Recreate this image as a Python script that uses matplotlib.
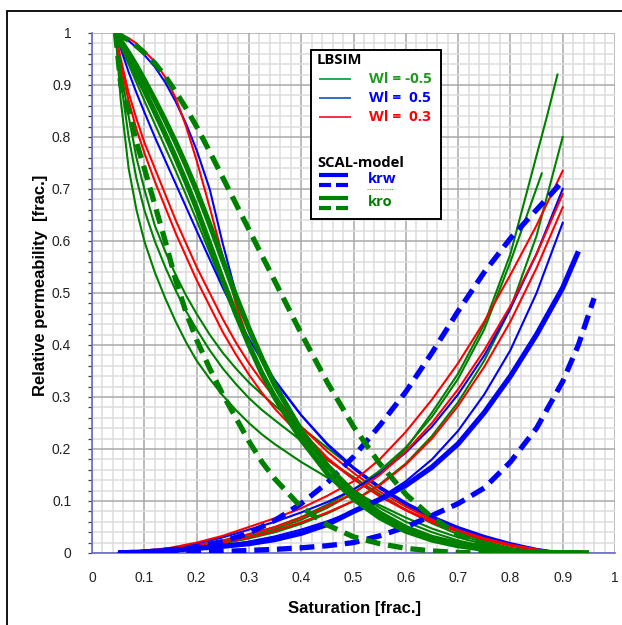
import matplotlib
matplotlib.use("Agg")
import matplotlib.pyplot as plt
from matplotlib.patches import Rectangle
from matplotlib.ticker import MultipleLocator

# ---------------- data ----------------
# oil relative permeability (kro) curves, sampled on a common saturation grid
sw_kro = [0.045, 0.055, 0.07, 0.085, 0.10, 0.12, 0.14, 0.16, 0.18, 0.20, 0.225,
          0.25, 0.275, 0.30, 0.325, 0.35, 0.40, 0.45, 0.50, 0.55, 0.60, 0.65,
          0.70, 0.75, 0.80, 0.85, 0.90]

# LBSIM, Wl = -0.5 (green)
kro_green_1 = [1.0, 0.93, 0.84, 0.76, 0.70, 0.63, 0.58, 0.535, 0.495, 0.46, 0.42,
               0.385, 0.355, 0.328, 0.305, 0.283, 0.242, 0.202, 0.163, 0.127, 0.093, 0.064,
               0.041, 0.023, 0.01, 0.003, 0.0]
kro_green_2 = [1.0, 0.91, 0.80, 0.72, 0.66, 0.60, 0.55, 0.505, 0.465, 0.43, 0.39,
               0.355, 0.325, 0.298, 0.275, 0.255, 0.216, 0.179, 0.146, 0.113, 0.083, 0.057,
               0.036, 0.02, 0.008, 0.002, 0.0]
kro_green_3 = [1.0, 0.87, 0.74, 0.66, 0.60, 0.54, 0.49, 0.445, 0.405, 0.37, 0.335,
               0.303, 0.275, 0.25, 0.228, 0.209, 0.175, 0.145, 0.118, 0.092, 0.068, 0.047,
               0.03, 0.017, 0.007, 0.002, 0.0]
kro_green_4 = [1.0, 0.975, 0.94, 0.905, 0.87, 0.825, 0.78, 0.735, 0.688, 0.64, 0.578,
               0.515, 0.455, 0.40, 0.35, 0.305, 0.228, 0.168, 0.122, 0.087, 0.06, 0.04,
               0.024, 0.013, 0.006, 0.002, 0.0]
# LBSIM, Wl = 0.5 (blue)
kro_blue_1 = [1.0, 0.995, 0.985, 0.972, 0.958, 0.935, 0.905, 0.868, 0.825, 0.775, 0.70,
              0.595, 0.50, 0.43, 0.375, 0.33, 0.265, 0.21, 0.165, 0.128, 0.097, 0.071,
              0.05, 0.033, 0.019, 0.008, 0.0]
kro_blue_2 = [1.0, 0.97, 0.925, 0.885, 0.848, 0.80, 0.755, 0.71, 0.665, 0.62, 0.565,
              0.51, 0.46, 0.412, 0.37, 0.332, 0.265, 0.208, 0.162, 0.124, 0.093, 0.068,
              0.047, 0.03, 0.017, 0.007, 0.0]
# LBSIM, Wl = 0.3 (red)
kro_red_1 = [1.0, 0.997, 0.99, 0.98, 0.965, 0.945, 0.915, 0.875, 0.82, 0.755, 0.665,
             0.57, 0.48, 0.405, 0.345, 0.30, 0.235, 0.183, 0.142, 0.11, 0.083, 0.061,
             0.043, 0.028, 0.016, 0.007, 0.0]
kro_red_2 = [1.0, 0.95, 0.885, 0.835, 0.79, 0.74, 0.69, 0.64, 0.595, 0.55, 0.50,
             0.45, 0.405, 0.365, 0.33, 0.298, 0.243, 0.195, 0.154, 0.118, 0.089, 0.064,
             0.044, 0.028, 0.015, 0.006, 0.0]
kro_red_3 = [1.0, 0.94, 0.87, 0.815, 0.77, 0.715, 0.665, 0.615, 0.57, 0.525, 0.475,
             0.425, 0.382, 0.343, 0.308, 0.277, 0.224, 0.18, 0.142, 0.109, 0.082, 0.059,
             0.041, 0.026, 0.014, 0.005, 0.0]

# SCAL-model kro (thick green)
sw_kro_scal = sw_kro + [0.95]
kro_scal_solid_1 = [1.0, 0.98, 0.95, 0.92, 0.89, 0.848, 0.805, 0.76, 0.713, 0.663, 0.595,
                    0.525, 0.46, 0.40, 0.345, 0.298, 0.218, 0.153, 0.104, 0.068, 0.042, 0.025,
                    0.014, 0.007, 0.003, 0.001, 0.0, 0.0]
kro_scal_solid_2 = [1.0, 0.985, 0.962, 0.937, 0.91, 0.872, 0.832, 0.79, 0.745, 0.697, 0.632,
                    0.563, 0.495, 0.432, 0.374, 0.322, 0.236, 0.168, 0.116, 0.077, 0.049, 0.03,
                    0.018, 0.009, 0.004, 0.0015, 0.0005, 0.0]
kro_scal_dash_1 = [1.0, 0.995, 0.986, 0.975, 0.962, 0.942, 0.917, 0.887, 0.855, 0.82, 0.772,
                   0.722, 0.672, 0.622, 0.572, 0.522, 0.422, 0.328, 0.243, 0.172, 0.113, 0.068,
                   0.036, 0.016, 0.005, 0.0, 0.0, 0.0]
kro_scal_dash_2 = [1.0, 0.90, 0.85, 0.79, 0.74, 0.67, 0.60, 0.525, 0.462, 0.41, 0.355,
                   0.305, 0.26, 0.215, 0.175, 0.142, 0.088, 0.054, 0.031, 0.018, 0.009, 0.004,
                   0.001, 0.0, 0.0, 0.0, 0.0, 0.0]

# water relative permeability (krw) curves
sw_krw = [0.05, 0.10, 0.15, 0.20, 0.25, 0.30, 0.35, 0.40, 0.45, 0.50, 0.55,
          0.60, 0.65, 0.70, 0.75, 0.80, 0.85, 0.90]

krw_red_1 = [0.0, 0.004, 0.01, 0.02, 0.033, 0.05, 0.067, 0.086, 0.11, 0.138, 0.18,
             0.233, 0.295, 0.365, 0.445, 0.535, 0.63, 0.735]
krw_red_2 = [0.0, 0.003, 0.008, 0.015, 0.024, 0.036, 0.05, 0.068, 0.09, 0.115, 0.15,
             0.195, 0.25, 0.315, 0.39, 0.475, 0.575, 0.69]
krw_red_3 = [0.0, 0.002, 0.006, 0.012, 0.02, 0.03, 0.043, 0.059, 0.078, 0.10, 0.13,
             0.17, 0.22, 0.283, 0.358, 0.445, 0.548, 0.665]
krw_blue_1 = [0.0, 0.003, 0.009, 0.018, 0.03, 0.045, 0.06, 0.078, 0.098, 0.122, 0.153,
              0.193, 0.243, 0.305, 0.38, 0.47, 0.575, 0.70]
krw_blue_2 = [0.0, 0.001, 0.004, 0.008, 0.014, 0.022, 0.032, 0.045, 0.061, 0.08, 0.105,
              0.138, 0.18, 0.235, 0.305, 0.39, 0.50, 0.635]
krw_green_3 = [0.0, 0.002, 0.006, 0.011, 0.018, 0.028, 0.04, 0.056, 0.076, 0.10, 0.132,
               0.172, 0.225, 0.29, 0.37, 0.47, 0.61, 0.80]

sw_krw_g1 = sw_krw[:-2] + [0.87, 0.89]
krw_green_1 = [0.0, 0.002, 0.007, 0.013, 0.021, 0.032, 0.046, 0.064, 0.087, 0.115, 0.152,
               0.20, 0.27, 0.345, 0.44, 0.575, 0.84, 0.92]
sw_krw_g2 = sw_krw[:-2] + [0.83, 0.86]
krw_green_2 = [0.0, 0.002, 0.008, 0.015, 0.024, 0.036, 0.05, 0.069, 0.093, 0.122, 0.158,
               0.203, 0.262, 0.335, 0.43, 0.56, 0.645, 0.73]

# SCAL-model krw (thick blue)
krw_scal_dash_1 = [0.0, 0.002, 0.006, 0.012, 0.022, 0.038, 0.063, 0.095, 0.135, 0.185, 0.245,
                   0.31, 0.385, 0.465, 0.54, 0.605, 0.66, 0.715]
sw_krw_solid = sw_krw + [0.93]
krw_scal_solid = [0.0, 0.002, 0.005, 0.009, 0.013, 0.018, 0.026, 0.038, 0.055, 0.08, 0.103,
                  0.13, 0.165, 0.21, 0.27, 0.34, 0.42, 0.51, 0.58]
sw_krw_dash_2 = sw_krw + [0.93, 0.96]
krw_scal_dash_2 = [0.0, 0.0005, 0.001, 0.002, 0.003, 0.005, 0.007, 0.01, 0.014, 0.02, 0.033,
                   0.05, 0.072, 0.095, 0.125, 0.175, 0.24, 0.33, 0.40, 0.49]

# legend entries
lbsim_labels = ["Wl = -0.5", "Wl =  0.5", "Wl =  0.3"]
scal_labels = ["krw", "kro"]

x_ticks = [0, 0.1, 0.2, 0.3, 0.4, 0.5, 0.6, 0.7, 0.8, 0.9, 1]
y_ticks = [0, 0.1, 0.2, 0.3, 0.4, 0.5, 0.6, 0.7, 0.8, 0.9, 1]

# ---------------- styling ----------------
GREEN = "#008000"
BLUE = "#0000FF"
RED = "#FF0000"
THIN = 1.5
THICK = 3.8
DASH = (0, (2.8, 1.5))

fig = plt.figure(figsize=(6.22, 6.25), dpi=100)
fig.patch.set_facecolor("white")
fig.patches.append(Rectangle((7 / 622, -0.01), 1.0, 1 - 11 / 625 + 0.01,
                             transform=fig.transFigure, fill=False,
                             edgecolor="black", linewidth=1.3, zorder=0))

ax = fig.add_axes([92 / 622, 72 / 625, 523 / 622, 520 / 625])
ax.set_xlim(0, 1)
ax.set_ylim(0, 1)

ax.xaxis.set_major_locator(MultipleLocator(0.1))
ax.yaxis.set_major_locator(MultipleLocator(0.1))
ax.xaxis.set_minor_locator(MultipleLocator(0.02))
ax.yaxis.set_minor_locator(MultipleLocator(0.02))
ax.grid(which="minor", color="#dcdcdc", linewidth=1.1, zorder=0)
ax.grid(which="major", color="#a8a8a8", linewidth=1.1, zorder=0)
ax.set_axisbelow(True)

for side in ("top", "right"):
    ax.spines[side].set_visible(False)
for side in ("left", "bottom"):
    ax.spines[side].set_color("#6a6ac8")
    ax.spines[side].set_linewidth(1.2)

ax.set_xticks(x_ticks)
ax.set_xticklabels([f"{v:g}" for v in x_ticks])
ax.set_yticks(y_ticks)
ax.set_yticklabels([f"{v:g}" for v in y_ticks])
ax.tick_params(axis="x", which="both", length=0, pad=13, labelsize=10,
               labelcolor="#222222")
ax.tick_params(axis="y", which="both", length=3, width=0.9, color="#444444",
               pad=12, labelsize=10, labelcolor="#222222")
for lab in ax.get_xticklabels() + ax.get_yticklabels():
    lab.set_fontfamily("Liberation Sans")

# thin LBSIM curves
for y in (kro_green_1, kro_green_2, kro_green_3, kro_green_4):
    ax.plot(sw_kro, y, color=GREEN, lw=THIN, zorder=3)
for y in (kro_blue_1, kro_blue_2):
    ax.plot(sw_kro, y, color=BLUE, lw=THIN, zorder=3)
for y in (kro_red_1, kro_red_2, kro_red_3):
    ax.plot(sw_kro, y, color=RED, lw=THIN, zorder=3)

ax.plot(sw_krw_g1, krw_green_1, color=GREEN, lw=THIN, zorder=3)
ax.plot(sw_krw_g2, krw_green_2, color=GREEN, lw=THIN, zorder=3)
ax.plot(sw_krw, krw_green_3, color=GREEN, lw=THIN, zorder=3)
for y in (krw_blue_1, krw_blue_2):
    ax.plot(sw_krw, y, color=BLUE, lw=THIN, zorder=3)
for y in (krw_red_1, krw_red_2, krw_red_3):
    ax.plot(sw_krw, y, color=RED, lw=THIN, zorder=3)

# thick SCAL-model curves
ax.plot(sw_krw_solid, krw_scal_solid, color=BLUE, lw=THICK, zorder=4,
        solid_capstyle="butt")
ax.plot(sw_krw, krw_scal_dash_1, color=BLUE, lw=THICK, ls=DASH, zorder=4)
ax.plot(sw_krw_dash_2, krw_scal_dash_2, color=BLUE, lw=THICK, ls=DASH, zorder=4)
ax.plot(sw_kro_scal, kro_scal_solid_1, color=GREEN, lw=THICK, zorder=4,
        solid_capstyle="butt")
ax.plot(sw_kro_scal, kro_scal_solid_2, color=GREEN, lw=THICK, zorder=4,
        solid_capstyle="butt")
ax.plot(sw_kro_scal, kro_scal_dash_1, color=GREEN, lw=THICK, ls=DASH, zorder=4)
ax.plot(sw_kro_scal, kro_scal_dash_2, color=GREEN, lw=THICK, ls=DASH, zorder=4)

# axis titles
fig.text(355 / 622, 1 - 608 / 625, "Saturation [frac.]", ha="center", va="center",
         fontsize=12, fontweight="bold", family="Liberation Sans")
fig.text(41 / 622, 1 - 285 / 625, "Relative permeability  [frac.]", ha="center",
         va="center", rotation=90, fontsize=12, fontweight="bold",
         family="Liberation Sans")

# ---------------- legend box ----------------
lx0, lx1, ly0, ly1 = 0.419, 0.667, 0.642, 0.967
ax.add_patch(Rectangle((lx0, ly0), lx1 - lx0, ly1 - ly0, facecolor="white",
                       edgecolor="black", linewidth=1.4, zorder=6))

def px(xp, yp):
    return ((xp - 92) / 523, (553 - yp) / 520)

font = "Open Sans"
ax.text(*px(317, 60), "LBSIM", fontsize=10.6, fontweight="bold", family=font,
        va="center", ha="left", zorder=7)
lb_colors = ["#2aa84a", "#2a6fcf", "#ff2a50"]
txt_colors = ["#1f9a1f", BLUE, RED]
for i, (lab, lc, tc) in enumerate(zip(lbsim_labels, lb_colors, txt_colors)):
    yy = 79 + 19 * i
    x0, y0 = px(320, yy)
    x1, _ = px(350, yy)
    ax.plot([x0, x1], [y0, y0], color=lc, lw=1.4, zorder=7)
    ax.text(*px(369, yy), lab, color=tc, fontsize=11, fontweight="bold",
            family=font, va="center", ha="left", zorder=7)

ax.text(*px(317, 163), "SCAL-model", fontsize=10.6, fontweight="bold",
        family=font, va="center", ha="left", zorder=7)
for i, (lab, c) in enumerate(zip(scal_labels, [BLUE, GREEN])):
    ys = 175 + 23 * i
    x0, y_s = px(319, ys)
    x1, y_d = px(348, ys + 10)
    ax.plot([x0, x1], [y_s, y_s], color=c, lw=3.0, zorder=7, solid_capstyle="butt")
    xm1, _ = px(331, 0)
    xm2, _ = px(336, 0)
    ax.plot([x0, xm1], [y_d, y_d], color=c, lw=3.0, zorder=7, solid_capstyle="butt")
    ax.plot([xm2, x1], [y_d, y_d], color=c, lw=3.0, zorder=7, solid_capstyle="butt")
    ax.text(*px(368, ys + 4), lab, color=c, fontsize=10.6, fontweight="bold",
            family=font, va="center", ha="left", zorder=7)

# spell-check squiggle under "krw"
sx0, sy = px(367, 189)
sx1, _ = px(393, 189)
ax.plot([sx0, sx1], [sy, sy], color="#ff6060", lw=0.8, ls=(0, (1, 1)), zorder=7)

fig.savefig("out.png", dpi=100, facecolor="white")
